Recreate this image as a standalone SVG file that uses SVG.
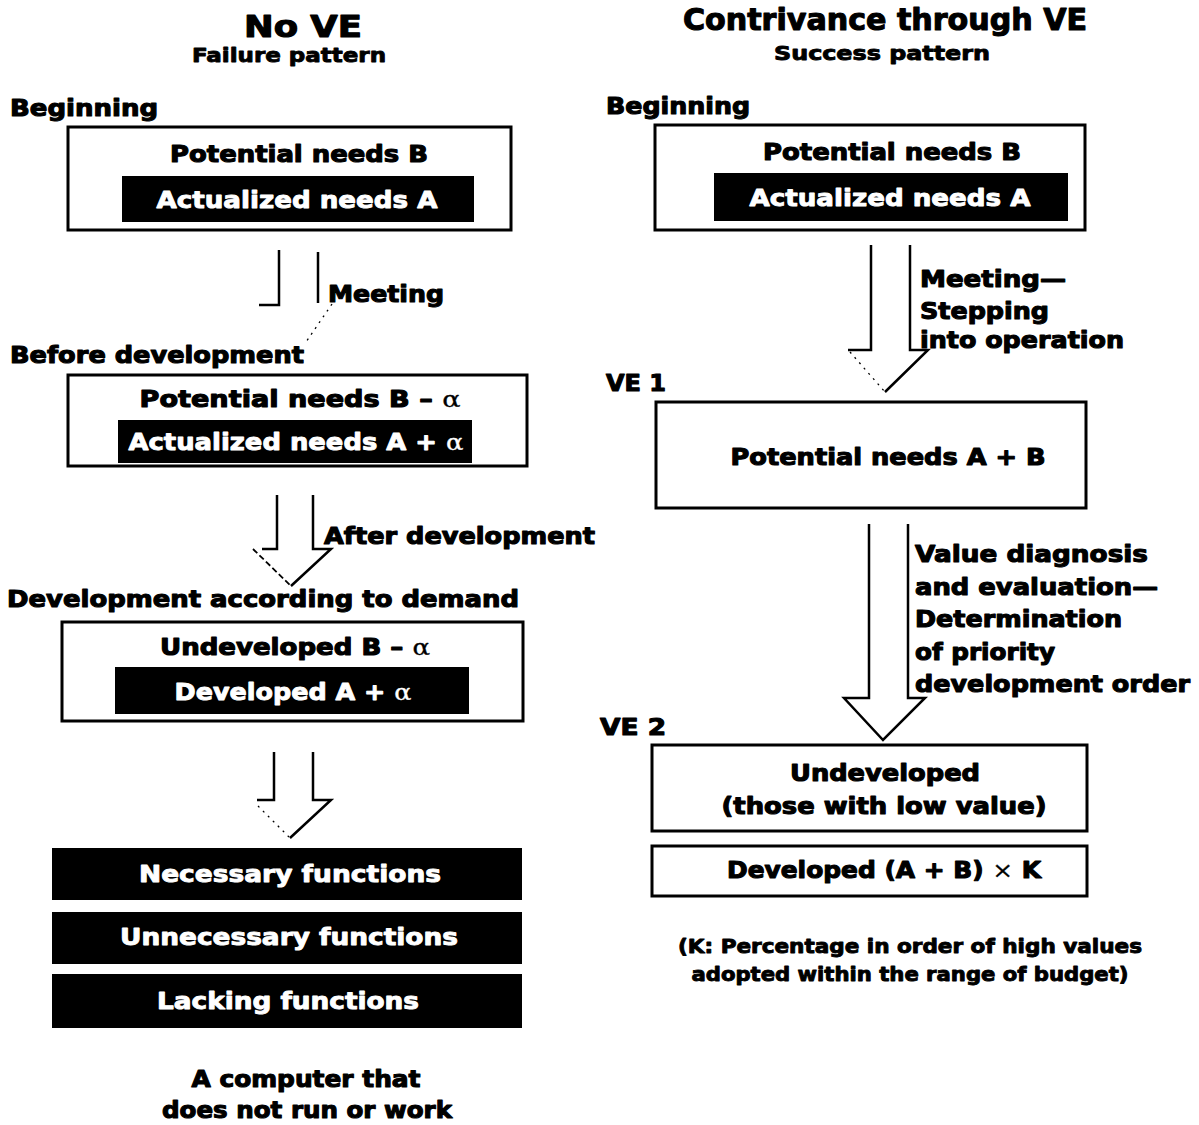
<svg xmlns="http://www.w3.org/2000/svg" width="1199" height="1125" viewBox="0 0 1199 1125">
  <style>
    text { font-family: "DejaVu Sans", "Liberation Sans", sans-serif; font-weight: bold; fill: #000; stroke: #000; stroke-width: 1.1; stroke-linejoin: round; }
    .mid { text-anchor: middle; }
    .inv { fill: #fff; stroke: #fff; stroke-width: 0.9; }
    .t1 { font-size: 30px; }
    .t2 { font-size: 20px; stroke-width: 0.9; }
    .lbl { font-size: 23px; }
    .box-t { font-size: 23px; }
    .note { font-size: 19px; stroke-width: 0.9; }
    .gr { font-family: "DejaVu Serif", "Liberation Serif", serif; font-weight: normal; stroke-width: 0.3; }
    .frame { fill: #fff; stroke: #000; stroke-width: 3; }
    .band { fill: #000; stroke: none; }
    .arrow { fill: none; stroke: #000; stroke-width: 2.5; stroke-linejoin: miter; }
    .faint { fill: none; stroke: #000; stroke-width: 1.3; stroke-dasharray: 2 5; }
    .thin { fill: none; stroke: #000; stroke-width: 1.8; }
  </style>

  <!-- column headings -->
  <g id="heading-left">
    <text class="t1 mid" x="303" y="37" textLength="118" lengthAdjust="spacingAndGlyphs">No VE</text>
    <text class="t2 mid" x="289" y="62" textLength="194" lengthAdjust="spacingAndGlyphs">Failure pattern</text>
  </g>
  <g id="heading-right">
    <text class="t1 mid" x="885" y="30" textLength="404" lengthAdjust="spacingAndGlyphs">Contrivance through VE</text>
    <text class="t2 mid" x="882" y="60" textLength="216" lengthAdjust="spacingAndGlyphs">Success pattern</text>
  </g>

  <!-- stage labels -->
  <g id="stage-labels">
    <text class="lbl" x="10" y="116" textLength="148" lengthAdjust="spacingAndGlyphs">Beginning</text>
    <text class="lbl" x="10" y="363" textLength="294" lengthAdjust="spacingAndGlyphs">Before development</text>
    <text class="lbl" x="7" y="607" textLength="512" lengthAdjust="spacingAndGlyphs">Development according to demand</text>
    <text class="lbl" x="606" y="114" textLength="144" lengthAdjust="spacingAndGlyphs">Beginning</text>
    <text class="lbl" x="606" y="391" textLength="60" lengthAdjust="spacingAndGlyphs">VE 1</text>
    <text class="lbl" x="600" y="735" textLength="66" lengthAdjust="spacingAndGlyphs">VE 2</text>
  </g>

  <!-- left column: failure pattern -->
  <g id="L-beginning">
    <rect class="frame" x="68" y="127" width="443" height="103"/>
    <text class="box-t mid" x="299" y="162" textLength="258" lengthAdjust="spacingAndGlyphs">Potential needs B</text>
    <rect class="band" x="122" y="176" width="352" height="46"/>
    <text class="box-t mid inv" x="297" y="208" textLength="281" lengthAdjust="spacingAndGlyphs">Actualized needs A</text>
  </g>

  <g id="L-before">
    <rect class="frame" x="68" y="375" width="459" height="91"/>
    <text class="box-t mid" x="300" y="407" textLength="321" lengthAdjust="spacingAndGlyphs">Potential needs B  – <tspan class="gr">α</tspan></text>
    <rect class="band" x="118" y="420" width="354" height="43"/>
    <text class="box-t mid inv" x="296" y="450" textLength="335" lengthAdjust="spacingAndGlyphs">Actualized needs A + <tspan class="gr">α</tspan></text>
  </g>

  <g id="L-demand">
    <rect class="frame" x="62" y="622" width="461" height="99"/>
    <text class="box-t mid" x="295" y="655" textLength="270" lengthAdjust="spacingAndGlyphs">Undeveloped B – <tspan class="gr">α</tspan></text>
    <rect class="band" x="115" y="667" width="354" height="47"/>
    <text class="box-t mid inv" x="293" y="700" textLength="237" lengthAdjust="spacingAndGlyphs">Developed A + <tspan class="gr">α</tspan></text>
  </g>

  <g id="L-necessary">
    <rect class="band" x="52" y="848" width="470" height="52"/>
    <text class="box-t mid inv" x="290" y="882" textLength="302" lengthAdjust="spacingAndGlyphs">Necessary functions</text>
  </g>
  <g id="L-unnecessary">
    <rect class="band" x="52" y="912" width="470" height="52"/>
    <text class="box-t mid inv" x="289" y="945" textLength="338" lengthAdjust="spacingAndGlyphs">Unnecessary functions</text>
  </g>
  <g id="L-lacking">
    <rect class="band" x="52" y="974" width="470" height="54"/>
    <text class="box-t mid inv" x="288" y="1009" textLength="262" lengthAdjust="spacingAndGlyphs">Lacking functions</text>
  </g>

  <g id="L-result">
    <text class="lbl mid" x="306" y="1087" textLength="229" lengthAdjust="spacingAndGlyphs">A computer that</text>
    <text class="lbl mid" x="307" y="1118" textLength="290" lengthAdjust="spacingAndGlyphs">does not run or work</text>
  </g>

  <!-- right column: success pattern -->
  <g id="R-beginning">
    <rect class="frame" x="655" y="125" width="430" height="105"/>
    <text class="box-t mid" x="892" y="160" textLength="258" lengthAdjust="spacingAndGlyphs">Potential needs B</text>
    <rect class="band" x="714" y="173" width="354" height="48"/>
    <text class="box-t mid inv" x="890" y="206" textLength="281" lengthAdjust="spacingAndGlyphs">Actualized needs A</text>
  </g>

  <g id="R-ve1">
    <rect class="frame" x="656" y="402" width="430" height="106"/>
    <text class="box-t mid" x="888" y="465" textLength="315" lengthAdjust="spacingAndGlyphs">Potential needs A + B</text>
  </g>

  <g id="R-undeveloped">
    <rect class="frame" x="652" y="745" width="435" height="86"/>
    <text class="box-t mid" x="885" y="781" textLength="190" lengthAdjust="spacingAndGlyphs">Undeveloped</text>
    <text class="box-t mid" x="884" y="814" textLength="325" lengthAdjust="spacingAndGlyphs">(those with low value)</text>
  </g>

  <g id="R-developed">
    <rect class="frame" x="652" y="846" width="435" height="50"/>
    <text class="box-t mid" x="884" y="878" textLength="314" lengthAdjust="spacingAndGlyphs">Developed (A + B) <tspan class="gr">×</tspan> K</text>
  </g>

  <g id="R-note">
    <text class="note mid" x="910" y="953" textLength="464" lengthAdjust="spacingAndGlyphs">(K: Percentage in order of high values</text>
    <text class="note mid" x="910" y="981" textLength="437" lengthAdjust="spacingAndGlyphs">adopted within the range of budget)</text>
  </g>

  <!-- hollow block arrows between stages -->
  <g id="connectors">
    <!-- left: Meeting -->
    <g id="arrow-L1">
      <polyline class="arrow" points="279,250 279,305 259,305"/>
      <polyline class="arrow" points="318,252 318,303"/>
      <line class="faint" x1="332" y1="304" x2="306" y2="342"/>
    </g>
    <text class="lbl" x="328" y="302" textLength="116" lengthAdjust="spacingAndGlyphs">Meeting</text>

    <!-- left: After development -->
    <g id="arrow-L2">
      <polyline class="arrow" points="277,495 277,549 262,549"/>
      <polyline class="arrow" points="313,495 313,549 331,549 291,586"/>
      <line class="thin" x1="253" y1="549" x2="291" y2="586" stroke-dasharray="6 3"/>
    </g>
    <text class="lbl" x="324" y="544" textLength="271" lengthAdjust="spacingAndGlyphs">After development</text>

    <!-- left: to resulting functions -->
    <g id="arrow-L3">
      <polyline class="arrow" points="274,752 274,800 257,800"/>
      <polyline class="arrow" points="313,752 313,800 331,800 290,838"/>
      <line class="faint" x1="258" y1="806" x2="290" y2="838"/>
    </g>

    <!-- right: Meeting / Stepping into operation -->
    <g id="arrow-R1">
      <polyline class="arrow" points="871,245 871,350 848,350"/>
      <polyline class="arrow" points="910,245 910,350 928,350 885,392"/>
      <line class="faint" x1="850" y1="352" x2="885" y2="392"/>
    </g>
    <text class="lbl" x="920" y="287" textLength="146" lengthAdjust="spacingAndGlyphs">Meeting—</text>
    <text class="lbl" x="920" y="319" textLength="129" lengthAdjust="spacingAndGlyphs">Stepping</text>
    <text class="lbl" x="920" y="348" textLength="204" lengthAdjust="spacingAndGlyphs">into operation</text>

    <!-- right: value diagnosis and evaluation -->
    <g id="arrow-R2">
      <polyline class="arrow" points="869,524 869,698 844,698 883,740 925,698 908,698 908,524"/>
    </g>
    <text class="lbl" x="915" y="562" textLength="233" lengthAdjust="spacingAndGlyphs">Value diagnosis</text>
    <text class="lbl" x="915" y="595" textLength="243" lengthAdjust="spacingAndGlyphs">and evaluation—</text>
    <text class="lbl" x="915" y="627" textLength="207" lengthAdjust="spacingAndGlyphs">Determination</text>
    <text class="lbl" x="915" y="660" textLength="140" lengthAdjust="spacingAndGlyphs">of priority</text>
    <text class="lbl" x="915" y="692" textLength="275" lengthAdjust="spacingAndGlyphs">development order</text>
  </g>
</svg>
